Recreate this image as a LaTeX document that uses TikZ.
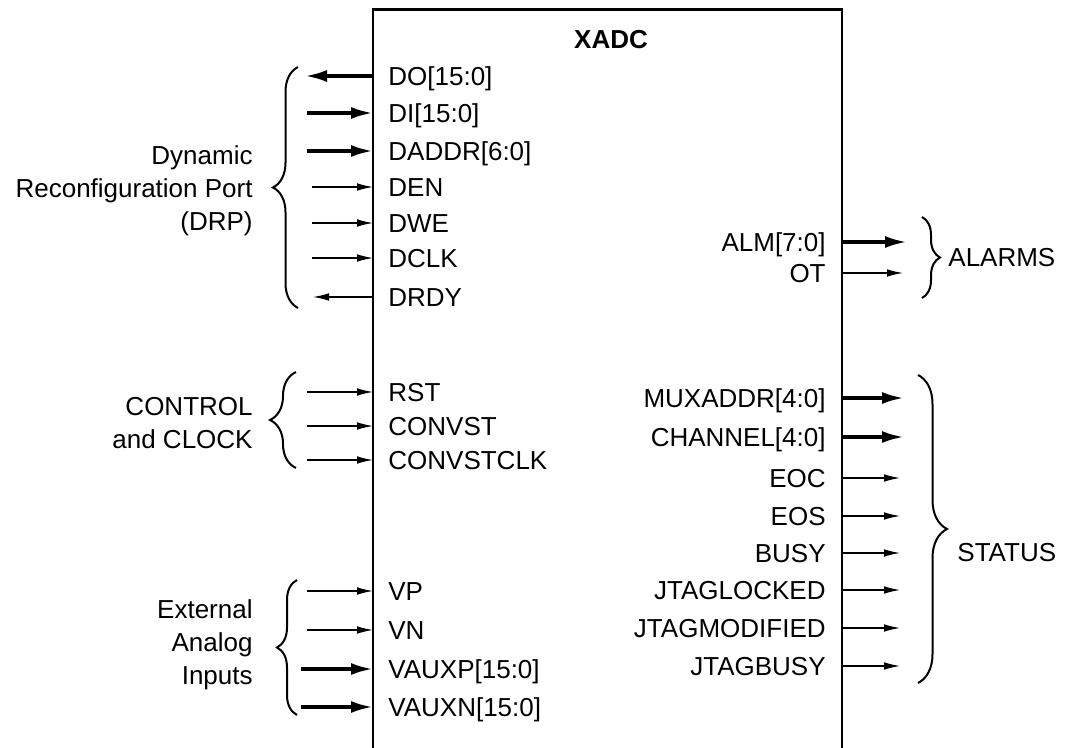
\documentclass[tikz,border=0pt]{standalone}
\usepackage{fontspec}
\setmainfont{Liberation Sans}
\usetikzlibrary{arrows.meta,decorations.pathreplacing}

\begin{document}
\begin{tikzpicture}[x=0.5pt,y=-0.5pt, font=\fontsize{13}{16.5}\selectfont]
    \tikzset{
      blockline/.style={draw=black, line width=1.3pt},
      sig/.style={inner sep=0pt, text height=9.3pt, text depth=0pt},
      lsig/.style={sig, anchor=west},
      rsig/.style={sig, anchor=east},
      busin/.style={line width=1.7pt, -{Latex[length=11pt,width=6pt]}},
      busout/.style={line width=1.7pt, {Latex[length=11pt,width=6pt]}-},
      wirein/.style={line width=0.6pt, -{Latex[length=8pt,width=3.8pt]}},
      wireout/.style={line width=0.6pt, {Latex[length=8pt,width=3.8pt]}-},
      grp/.style={align=right, anchor=east, inner sep=0pt},
      grpbrace/.style={line width=1pt, decorate, decoration={brace, amplitude=#1}}
    }
    \useasboundingbox (0,0) rectangle (1071,748);

    % XADC block, open at the bottom
    \coordinate (boxw) at (373,9.5);
    \coordinate (boxe) at (842,9.5);
    \draw[blockline] (373,748) -- (boxw) -- (boxe) -- (842,748);
    \node[font=\fontsize{13}{16.5}\selectfont\bfseries] (title) at (611,40) {XADC};

    % Left side ports
    \foreach \nm/\lab/\yy/\xo/\sty in {
        do/DO[15:0]/76/305/busout,
        di/DI[15:0]/113/307/busin,
        daddr/DADDR[6:0]/151/307/busin,
        den/DEN/187/312/wirein,
        dwe/DWE/223/312/wirein,
        dclk/DCLK/258/312/wirein,
        drdy/DRDY/297/313/wireout,
        rst/RST/392/307/wirein,
        convst/CONVST/426/307/wirein,
        convstclk/CONVSTCLK/460/307/wirein,
        vp/VP/591/307/wirein,
        vn/VN/630/307/wirein,
        vauxp/VAUXP[15:0]/669/301/busin,
        vauxn/VAUXN[15:0]/707/301/busin} {
      \node[lsig] (\nm) at (388,\yy) {\lab};
      \coordinate (\nm o) at (\xo,\yy);
      \draw[\sty] (\nm o) -- (\nm o -| boxw);
    }

    % Right side ports
    \foreach \nm/\lab/\yy/\xo/\sty in {
        alm/ALM[7:0]/242/907/busin,
        ot/OT/273/903/wirein,
        muxaddr/MUXADDR[4:0]/398/904/busin,
        channel/CHANNEL[4:0]/437/904/busin,
        eoc/EOC/478/900/wirein,
        eos/EOS/516/900/wirein,
        busy/BUSY/553/900/wirein,
        jtaglocked/JTAGLOCKED/590/900/wirein,
        jtagmodified/JTAGMODIFIED/628/900/wirein,
        jtagbusy/JTAGBUSY/666/900/wirein} {
      \node[rsig] (\nm) at (826,\yy) {\lab};
      \coordinate (\nm o) at (\xo,\yy);
      \draw[\sty] (\nm o -| boxe) -- (\nm o);
    }

    % Groups
    \node[grp] (drp) at (253,191) {Dynamic\\Reconfiguration Port\\(DRP)};
    \draw[grpbrace=12.5pt] (298,308) -- (298,67);
    \node[grp] (ctrl) at (253,423) {CONTROL\\and CLOCK};
    \draw[grpbrace=13pt] (296,468) -- (296,372);
    \node[grp] (ext) at (253,645) {External\\Analog\\Inputs};
    \draw[grpbrace=10pt] (297,715) -- (297,580);
    \node[anchor=west, inner sep=0pt] (alarms) at (948,258) {ALARMS};
    \draw[grpbrace=9pt] (922,217) -- (922,298);
    \node[anchor=west, inner sep=0pt] (status) at (957,553) {STATUS};
    \draw[grpbrace=14.5pt] (918,375) -- (918,683);
\end{tikzpicture}
\end{document}
